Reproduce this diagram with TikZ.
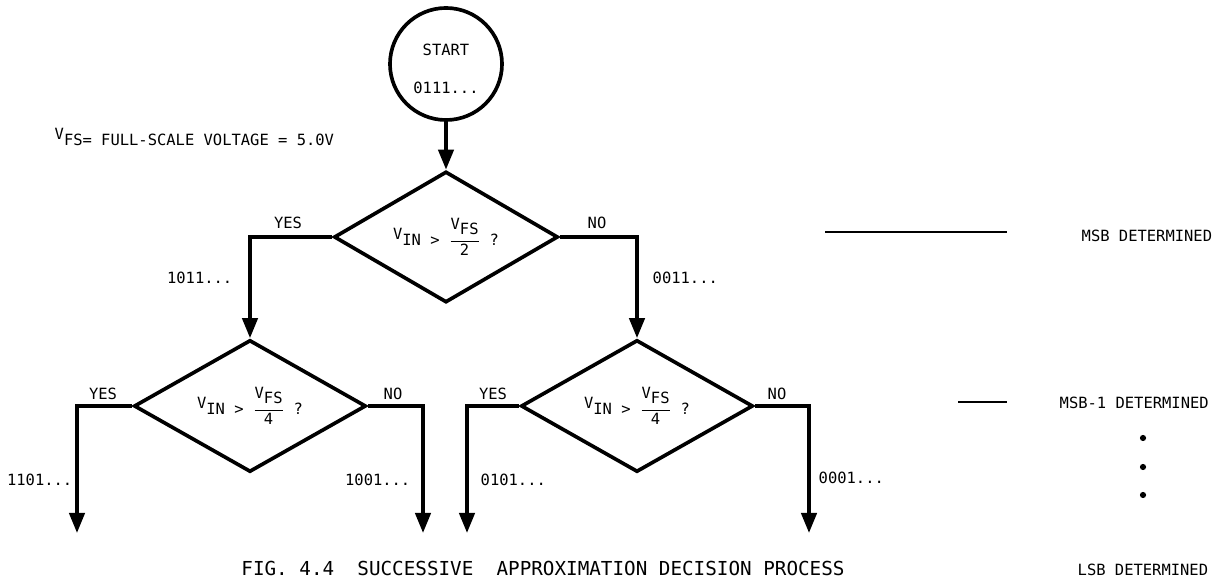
\documentclass[tikz,border=0pt]{standalone}
\usepackage{amsmath}
\usepackage{fontspec}
\setmainfont{DejaVu Sans Mono}
\usetikzlibrary{shapes.geometric, positioning, arrows.meta}

%% V with a raised V and full-size index, as typed
\newcommand{\vsub}[1]{\raisebox{0.65ex}{V}#1}
\newcommand{\cmpfrac}[1]{\vsub{IN} > $\dfrac{\text{\vsub{FS}}}{\text{#1}}$ ?}

\begin{document}
\begin{tikzpicture}[
  x=0.025cm, y=-0.025cm,
  every node/.style={font=\fontsize{11}{13}\selectfont, inner sep=1pt},
  %% flow chart styles
  startnode/.style={draw, circle, line width=2.6pt, minimum size=2.8cm},
  decision/.style={draw, diamond, line width=2.6pt, aspect=1.75,
    minimum width=5.8cm, minimum height=3.3cm, inner sep=0pt},
  flow/.style={line width=2.6pt},
  arr/.style={flow, -{Triangle[length=0.5cm, width=0.38cm]}},
  legendline/.style={line width=2pt},
  caption/.style={font=\fontsize{13.7}{16}\selectfont},
]
\useasboundingbox (0,0) rectangle (1223,582);

%% full-scale voltage note
\node[anchor=west] (vfs) at (53,137)
  {\vsub{FS}= FULL-SCALE VOLTAGE = 5.0V};

%% ROW 0 -- start
\node[startnode] (start) at (446,64) {};
\node (startlbl)  at (446,50) {START};
\node (startcode) at (446,88) {0111...};

%% ROW 1 -- first decision
\node[decision, minimum width=5.6cm, minimum height=3.275cm] (dec1) at (446,237)
  {\cmpfrac{2}};
\draw[arr] (start.south) -- (dec1.north);

%% ROW 2 -- second decisions
\node[decision] (dec2) at (250,406) {\cmpfrac{4}};
\node[decision] (dec3) at (637,406) {\cmpfrac{4}};

\draw[arr] (dec1.west) -| (dec2.north);
\draw[arr] (dec1.east) -| (dec3.north);
\node (yes1) at (288,223) {YES};
\node (no1)  at (597,223) {NO};
\node[anchor=east] (code1011) at (234,278) {1011...};
\node[anchor=west] (code0011) at (651,278) {0011...};

%% ROW 3 -- outputs
\coordinate (out1) at (77,533);
\coordinate (out2) at (423,533);
\coordinate (out3) at (467,533);
\coordinate (out4) at (809,533);

\draw[arr] (dec2.west) -| (out1);
\draw[arr] (dec2.east) -| (out2);
\draw[arr] (dec3.west) -| (out3);
\draw[arr] (dec3.east) -| (out4);

\node (yes2) at (103,394) {YES};
\node (no2)  at (393,394) {NO};
\node (yes3) at (493,394) {YES};
\node (no3)  at (777,394) {NO};
\node[anchor=east] (code1101) at (74,480) {1101...};
\node[anchor=east] (code1001) at (412,480) {1001...};
\node[anchor=west] (code0101) at (479,480) {0101...};
\node[anchor=west] (code0001) at (817,478) {0001...};

%% legend on the right
\draw[legendline] (825,232) -- (1007,232);
\node[anchor=west] (msb) at (1080,236) {MSB DETERMINED};
\draw[legendline] (958,402) -- (1007,402);
\node[anchor=west] (msb1) at (1058,403) {MSB-1 DETERMINED};
\foreach \yy in {438,467,495}
  \fill (1143,\yy) circle (2.2pt);
\node[anchor=west] (lsb) at (1076,570) {LSB DETERMINED};

%% caption
\node[caption] (fig) at (543,568)
  {FIG. 4.4\ \ SUCCESSIVE\ \ APPROXIMATION DECISION PROCESS};

\end{tikzpicture}
\end{document}
